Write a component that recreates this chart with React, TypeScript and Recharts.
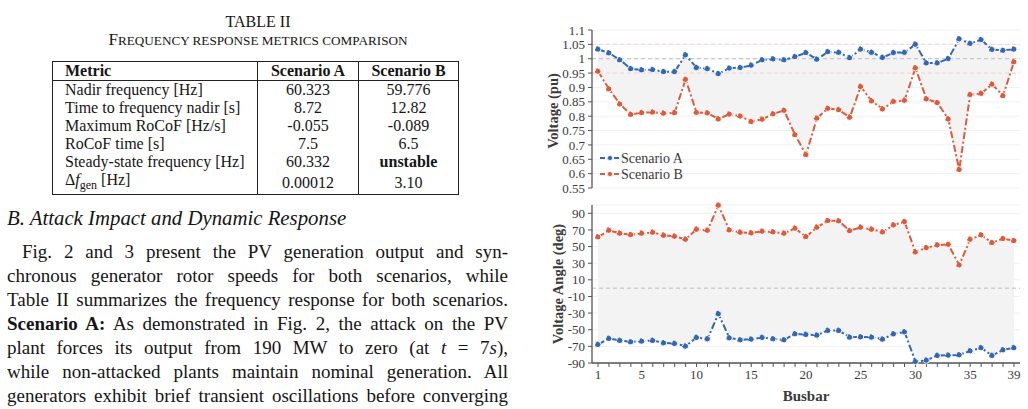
import React from 'react';
import {
  ComposedChart, Line, Area, XAxis, YAxis, CartesianGrid, ReferenceLine, Label,
} from 'recharts';

const busbars = [1,2,3,4,5,6,7,8,9,10,11,12,13,14,15,16,17,18,19,20,21,22,23,24,25,26,27,28,29,30,31,32,33,34,35,36,37,38,39];
const voltageA = [1.033,1.02,0.996,0.965,0.961,0.962,0.955,0.955,1.013,0.969,0.965,0.948,0.967,0.969,0.977,0.996,0.999,0.996,1.007,1.021,0.998,1.024,1.022,1.003,1.033,1.022,1.004,1.021,1.022,1.05,0.985,0.985,1.0,1.069,1.053,1.066,1.032,1.029,1.033];
const voltageB = [0.956,0.895,0.842,0.806,0.812,0.814,0.81,0.812,0.928,0.813,0.811,0.79,0.807,0.8,0.781,0.789,0.808,0.82,0.735,0.666,0.793,0.827,0.822,0.796,0.903,0.853,0.825,0.851,0.855,0.968,0.86,0.847,0.79,0.614,0.875,0.879,0.911,0.871,0.989];
const angleA = [-67.8,-60.6,-63,-64.6,-63.8,-63,-65.8,-66.6,-69.8,-59.4,-61,-30.9,-59.8,-62.2,-61.4,-59.4,-61,-62.2,-55,-55.8,-56.6,-51,-51,-59,-58.6,-59,-61.4,-55,-52.6,-88.3,-86.7,-81.1,-80.7,-80.3,-75.5,-71.8,-81.1,-74.3,-71.8];
const angleB = [61.5,69.5,65.9,64.3,65.9,67.1,63.5,62.3,58.7,70.7,69.5,99.6,69.9,67.1,66.3,68.3,67.5,65.9,71.9,61.9,73.1,81.2,80.8,69.1,73.1,70.7,67.5,75.9,80,43.4,48.6,51.8,52.6,27.8,58.7,63.9,54.7,59.5,57.1];
const voltageTicks = [0.55,0.6,0.65,0.7,0.75,0.8,0.85,0.9,0.95,1,1.05,1.1];
const angleTicks = [-90,-70,-50,-30,-10,10,30,50,70,90];
const busLabelTicks = [1,5,10,15,20,25,30,35,39];
const seriesNames = ['Scenario A','Scenario B'];

const tableHeader = ['Metric','Scenario A','Scenario B'];
const tableMetrics = ['Nadir frequency [Hz]','Time to frequency nadir [s]','Maximum RoCoF [Hz/s]','RoCoF time [s]','Steady-state frequency [Hz]','DELTA'];
const tableA = ['60.323','8.72','-0.055','7.5','60.332','0.00012'];
const tableB = ['59.776','12.82','-0.089','6.5','unstable','3.10'];

const BLUE = '#3366b3';
const RED = '#dd5a3c';
const AX = '#555';
const TXT = '#3a3a3a';
const CF = '"Liberation Serif", "DejaVu Serif", serif';

const voltData = busbars.map((b, i) => ({ bus: b, a: voltageA[i], b: voltageB[i] }));
const angleData = busbars.map((b, i) => ({ bus: b, a: angleA[i], b: angleB[i] }));

const dash = '7 2.5 2 2.5';
const dotA = { r: 3, fill: BLUE, stroke: '#fff', strokeWidth: 1 };
const dotB = { r: 3, fill: RED, stroke: '#fff', strokeWidth: 1 };
const tickStyle = { fill: TXT, fontSize: 13, fontFamily: CF };

const fmtV = (v: number) => String(Number(v.toFixed(2)));

function LegendBox() {
  const items = [
    { name: seriesNames[0], color: BLUE, y: 158 },
    { name: seriesNames[1], color: RED, y: 174 },
  ];
  return (
    <svg width={120} height={40} style={{ position: 'absolute', left: 596, top: 148 }}>
      {items.map((it, i) => (
        <g key={i} transform={`translate(0, ${it.y - 148})`}>
          <line x1={4} x2={23} y1={0} y2={0} stroke={it.color} strokeWidth={2} strokeDasharray="5 2" />
          <circle cx={14} cy={0} r={2.6} fill={it.color} stroke="#fff" strokeWidth={0.8} />
          <text x={25} y={0} dy="0.35em" fontFamily={CF} fontSize={14} fill={TXT}>{it.name}</text>
        </g>
      ))}
    </svg>
  );
}

function Para({ top, children, indent = 0 }: { top: number; children: React.ReactNode; indent?: number }) {
  return (
    <div style={{
      position: 'absolute', left: 7 + indent, top, width: 501 - indent, height: 24, lineHeight: '24px',
      textAlign: 'justify', textAlignLast: 'justify', whiteSpace: 'normal', overflow: 'hidden',
    }}>{children}</div>
  );
}

export default function App() {
  const cellBase: React.CSSProperties = { padding: 0, height: 18, lineHeight: '18px' };
  return (
    <div style={{ position: 'absolute', left: 0, top: 0, width: 1028, height: 409, background: '#fff', overflow: 'hidden', fontFamily: '"Liberation Serif", serif', color: '#151515' }}>
      {/* Left: table and text */}
      <div style={{ position: 'absolute', left: 0, top: 12, width: 516, textAlign: 'center', fontSize: 16, lineHeight: '20px' }}>TABLE II</div>
      <div style={{ position: 'absolute', left: 0, top: 30, width: 516, textAlign: 'center', lineHeight: '20px' }}>
        <span style={{ fontSize: 17 }}>F</span><span style={{ fontSize: 13.2 }}>REQUENCY RESPONSE METRICS COMPARISON</span>
      </div>
      <table style={{ position: 'absolute', left: 52, top: 61, borderCollapse: 'collapse', fontSize: 16, border: '1.2px solid #222' }}>
        <colgroup>
          <col style={{ width: 205 }} />
          <col style={{ width: 101 }} />
          <col style={{ width: 100 }} />
        </colgroup>
        <tbody>
          <tr style={{ borderBottom: '1.2px solid #222' }}>
            <td style={{ ...cellBase, paddingLeft: 12, fontWeight: 'bold', borderRight: '1.2px solid #222' }}>{tableHeader[0]}</td>
            <td style={{ ...cellBase, textAlign: 'center', fontWeight: 'bold', borderRight: '1.2px solid #222' }}>{tableHeader[1]}</td>
            <td style={{ ...cellBase, textAlign: 'center', fontWeight: 'bold' }}>{tableHeader[2]}</td>
          </tr>
          {tableMetrics.map((m, i) => (
            <tr key={i}>
              <td style={{ ...cellBase, paddingLeft: 12, borderRight: '1.2px solid #222' }}>
                {m === 'DELTA' ? (<span>Δ<i>f</i><sub style={{ fontSize: 12 }}>gen</sub> [Hz]</span>) : m}
              </td>
              <td style={{ ...cellBase, textAlign: 'center', borderRight: '1.2px solid #222' }}>{tableA[i]}</td>
              <td style={{ ...cellBase, textAlign: 'center', fontWeight: tableB[i] === 'unstable' ? 'bold' : 'normal' }}>{tableB[i]}</td>
            </tr>
          ))}
        </tbody>
      </table>
      <div style={{ position: 'absolute', left: 7, top: 206, lineHeight: '24px', fontStyle: 'italic', fontSize: 20.8 }}>B. Attack Impact and Dynamic Response</div>
      <div style={{ fontSize: 19 }}>
        <Para top={240} indent={15}>Fig. 2 and 3 present the PV generation output and syn-</Para>
        <Para top={264}>chronous generator rotor speeds for both scenarios, while</Para>
        <Para top={288}>Table II summarizes the frequency response for both scenarios.</Para>
        <Para top={312}><b>Scenario A:</b> As demonstrated in Fig. 2, the attack on the PV</Para>
        <Para top={336}>plant forces its output from 190 MW to zero (at <i>t</i> = 7<i>s</i>),</Para>
        <Para top={360}>while non-attacked plants maintain nominal generation. All</Para>
        <Para top={384}>generators exhibit brief transient oscillations before converging</Para>
      </div>

      {/* Right: voltage chart */}
      <div style={{ position: 'absolute', left: 530, top: 20 }}>
        <ComposedChart width={498} height={175} data={voltData} margin={{ top: 10, right: 8, left: 0, bottom: 7 }}>
          <CartesianGrid vertical={false} stroke="#f1f1f1" />
          <XAxis dataKey="bus" type="number" domain={[0.45, 39.55]} hide />
          <YAxis type="number" domain={[0.55, 1.1]} ticks={voltageTicks} interval={0} width={62}
            tickFormatter={fmtV} tick={tickStyle} tickSize={4} tickMargin={3}
            axisLine={{ stroke: AX, strokeWidth: 1.3 }} tickLine={{ stroke: AX }}>
            <Label content={() => (
              <text x={23} y={91} transform="rotate(-90, 23, 91)" textAnchor="middle" dominantBaseline="central"
                fontFamily={CF} fontWeight="bold" fontSize={14.5} fill={TXT}>Voltage (pu)</text>
            )} />
          </YAxis>
          <Area dataKey={(d: any) => [d.b, d.a]} fill="#f3f3f3" fillOpacity={1} stroke="none" isAnimationActive={false} />
          <ReferenceLine y={1.05} stroke="#f6d2d2" strokeDasharray="4 3" />
          <ReferenceLine y={0.95} stroke="#f6d2d2" strokeDasharray="4 3" />
          <ReferenceLine y={1} stroke="#bdbdbd" strokeDasharray="4 3" />
          <Line dataKey="a" stroke={BLUE} strokeWidth={2} strokeDasharray={dash} dot={dotA} activeDot={false} isAnimationActive={false} />
          <Line dataKey="b" stroke={RED} strokeWidth={2} strokeDasharray={dash} dot={dotB} activeDot={false} isAnimationActive={false} />
        </ComposedChart>
      </div>
      <LegendBox />

      {/* Right: angle chart */}
      <div style={{ position: 'absolute', left: 530, top: 200 }}>
        <ComposedChart width={498} height={209} data={angleData} margin={{ top: 5, right: 8, left: 0, bottom: 0 }}>
          <CartesianGrid vertical={false} stroke="#f1f1f1" />
          <XAxis dataKey="bus" type="number" domain={[0.45, 39.55]} ticks={busbars} interval={0}
            tickFormatter={(v: number) => (busLabelTicks.includes(v) ? String(v) : '')}
            tick={tickStyle} tickSize={4} tickMargin={3} height={46}
            axisLine={{ stroke: AX, strokeWidth: 1.3 }} tickLine={{ stroke: AX }}>
            <Label value="Busbar" position="insideBottom" offset={8} style={{ fontFamily: CF, fontWeight: 'bold', fontSize: 15, fill: TXT }} />
          </XAxis>
          <YAxis type="number" domain={[-90, 100]} ticks={angleTicks} interval={0} width={62}
            tick={tickStyle} tickSize={4} tickMargin={3}
            axisLine={{ stroke: AX, strokeWidth: 1.3 }} tickLine={{ stroke: AX }}>
            <Label content={() => (
              <text x={28} y={84} transform="rotate(-90, 28, 84)" textAnchor="middle" dominantBaseline="central"
                fontFamily={CF} fontWeight="bold" fontSize={14.5} fill={TXT}>Voltage Angle (deg)</text>
            )} />
          </YAxis>
          <Area dataKey={(d: any) => [d.a, d.b]} fill="#f3f3f3" fillOpacity={1} stroke="none" isAnimationActive={false} />
          <ReferenceLine y={0} stroke="#bdbdbd" strokeDasharray="4 3" />
          <Line dataKey="a" stroke={BLUE} strokeWidth={2} strokeDasharray={dash} dot={dotA} activeDot={false} isAnimationActive={false} />
          <Line dataKey="b" stroke={RED} strokeWidth={2} strokeDasharray={dash} dot={dotB} activeDot={false} isAnimationActive={false} />
        </ComposedChart>
      </div>
    </div>
  );
}
